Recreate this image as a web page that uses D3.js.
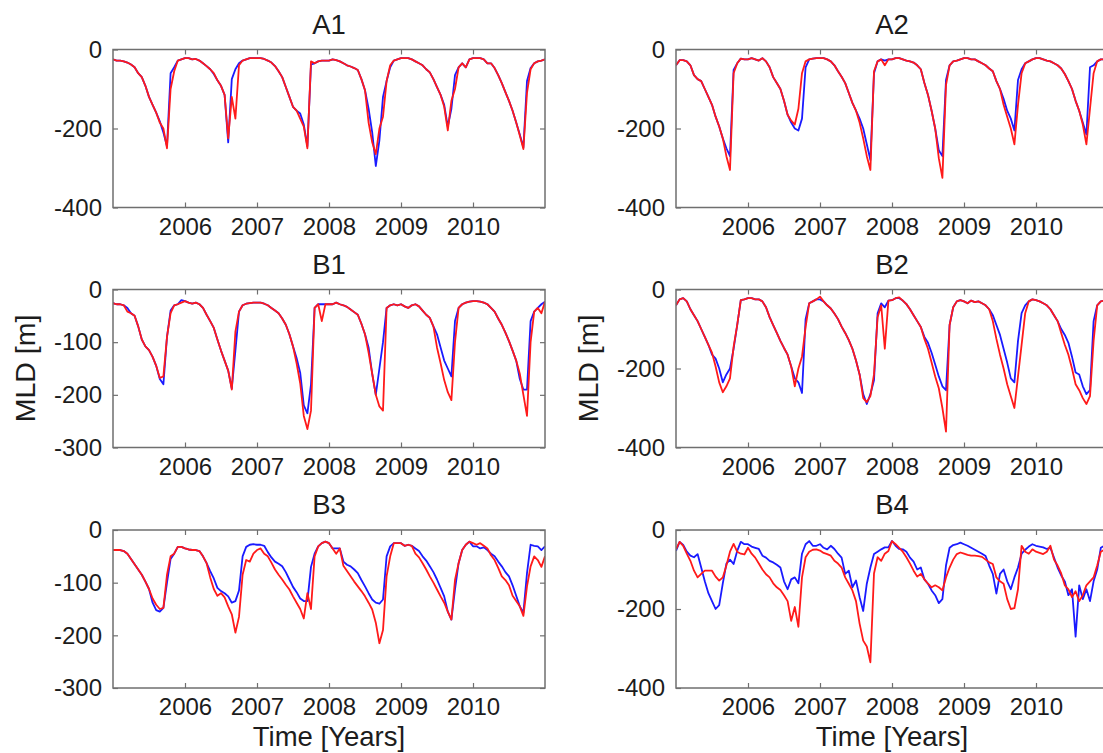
<!DOCTYPE html>
<html>
<head>
<meta charset="utf-8">
<script src="https://cdn.jsdelivr.net/npm/d3@7"></script>
<style>
  body { margin: 0; background: #fff; }
  svg { display: block; font-family: "Liberation Sans", Arial, Helvetica, sans-serif; }
</style>
</head>
<body>
<svg id="chart" width="1103" height="753"></svg>
<script>
// Sample times (decimal years), shared by every series
const years = [
  2005.00, 2005.05, 2005.10, 2005.15, 2005.20, 2005.25, 2005.30, 2005.35, 2005.40, 2005.45,
  2005.50, 2005.55, 2005.60, 2005.65, 2005.70, 2005.75, 2005.80, 2005.85, 2005.90, 2005.95,
  2006.00, 2006.05, 2006.10, 2006.15, 2006.20, 2006.25, 2006.30, 2006.35, 2006.40, 2006.45,
  2006.50, 2006.55, 2006.60, 2006.65, 2006.70, 2006.75, 2006.80, 2006.85, 2006.90, 2006.95,
  2007.00, 2007.05, 2007.10, 2007.15, 2007.20, 2007.25, 2007.30, 2007.35, 2007.40, 2007.45,
  2007.50, 2007.55, 2007.60, 2007.65, 2007.70, 2007.75, 2007.80, 2007.85, 2007.90, 2007.95,
  2008.00, 2008.05, 2008.10, 2008.15, 2008.20, 2008.25, 2008.30, 2008.35, 2008.40, 2008.45,
  2008.50, 2008.55, 2008.60, 2008.65, 2008.70, 2008.75, 2008.80, 2008.85, 2008.90, 2008.95,
  2009.00, 2009.05, 2009.10, 2009.15, 2009.20, 2009.25, 2009.30, 2009.35, 2009.40, 2009.45,
  2009.50, 2009.55, 2009.60, 2009.65, 2009.70, 2009.75, 2009.80, 2009.85, 2009.90, 2009.95,
  2010.00, 2010.05, 2010.10, 2010.15, 2010.20, 2010.25, 2010.30, 2010.35, 2010.40, 2010.45,
  2010.50, 2010.55, 2010.60, 2010.65, 2010.70, 2010.75, 2010.80, 2010.85, 2010.90, 2010.95,
  2011.00
];

// Mixed layer depth (m), blue = first estimate, red = second estimate
const a1Blue = [
  -25,-28,-28,-30,-33,-38,-45,-60,-70,-92,-120,-140,-160,-182,-210,-245,-60,-45,-28,-25,
  -22,-22,-25,-24,-28,-35,-42,-50,-62,-78,-92,-115,-235,-75,-50,-35,-28,-25,-22,-22,
  -22,-22,-24,-28,-33,-42,-55,-70,-95,-120,-145,-155,-162,-190,-245,-38,-35,-30,-28,-28,
  -28,-25,-27,-30,-35,-40,-43,-47,-52,-75,-103,-150,-210,-295,-230,-120,-80,-45,-28,-25,
  -22,-22,-22,-25,-30,-35,-40,-50,-58,-75,-95,-115,-140,-195,-150,-65,-45,-35,-45,-25,
  -22,-22,-22,-25,-35,-35,-47,-65,-85,-108,-130,-155,-185,-215,-248,-80,-47,-35,-30,-28,-25
];
const a1Red = [
  -25,-28,-28,-30,-33,-38,-45,-60,-70,-92,-120,-140,-160,-185,-200,-250,-100,-55,-28,-25,
  -22,-22,-25,-24,-28,-35,-42,-50,-60,-78,-92,-115,-225,-120,-175,-40,-28,-25,-22,-22,
  -22,-22,-24,-28,-33,-42,-55,-70,-95,-120,-145,-155,-175,-195,-250,-30,-35,-30,-28,-28,
  -28,-25,-27,-30,-35,-40,-43,-47,-52,-75,-103,-185,-235,-265,-200,-170,-80,-40,-28,-25,
  -22,-22,-22,-25,-30,-35,-40,-50,-58,-75,-95,-115,-145,-205,-130,-100,-45,-35,-45,-25,
  -22,-22,-22,-25,-35,-35,-47,-65,-85,-108,-130,-155,-185,-218,-252,-110,-50,-35,-30,-28,-25
];
const a2Blue = [
  -40,-27,-27,-30,-40,-65,-75,-80,-100,-120,-140,-170,-195,-225,-250,-270,-52,-35,-23,-25,
  -25,-22,-25,-28,-22,-30,-45,-70,-85,-100,-130,-165,-185,-200,-205,-175,-45,-25,-23,-22,
  -22,-22,-25,-30,-40,-55,-69,-85,-110,-135,-155,-175,-200,-240,-280,-60,-30,-25,-28,-25,
  -25,-22,-22,-25,-28,-30,-33,-40,-50,-85,-115,-155,-200,-255,-270,-77,-40,-30,-28,-25,
  -22,-22,-25,-25,-30,-35,-40,-48,-55,-80,-100,-125,-155,-175,-205,-77,-50,-35,-30,-25,
  -22,-22,-25,-28,-30,-35,-40,-48,-62,-80,-100,-130,-155,-185,-215,-45,-40,-30,-25,-25,-25
];
const a2Red = [
  -40,-27,-27,-30,-40,-65,-75,-80,-100,-120,-140,-170,-195,-225,-270,-305,-60,-35,-23,-25,
  -25,-22,-25,-28,-22,-30,-45,-70,-85,-100,-130,-165,-180,-190,-150,-60,-30,-25,-23,-22,
  -22,-22,-25,-30,-40,-55,-69,-85,-110,-135,-155,-185,-225,-270,-305,-55,-30,-25,-40,-25,
  -25,-22,-22,-25,-28,-30,-33,-40,-50,-85,-115,-155,-200,-275,-325,-90,-40,-30,-28,-25,
  -22,-22,-25,-25,-30,-35,-40,-48,-55,-80,-100,-140,-170,-200,-240,-140,-60,-35,-30,-25,
  -22,-22,-25,-28,-30,-35,-40,-48,-62,-80,-100,-130,-155,-190,-240,-150,-60,-30,-25,-25,-25
];
const b1Blue = [
  -26,-28,-28,-30,-35,-45,-50,-70,-95,-108,-115,-128,-145,-170,-180,-90,-40,-30,-28,-20,
  -22,-25,-27,-25,-28,-35,-48,-60,-73,-95,-116,-135,-154,-188,-116,-42,-30,-27,-26,-25,
  -25,-25,-27,-30,-35,-40,-45,-55,-67,-85,-108,-130,-158,-220,-235,-180,-35,-28,-28,-28,
  -28,-28,-25,-28,-30,-33,-38,-43,-48,-65,-85,-110,-160,-200,-150,-100,-35,-30,-28,-30,
  -28,-32,-35,-30,-28,-32,-40,-48,-54,-70,-85,-110,-135,-150,-165,-60,-35,-28,-25,-23,
  -22,-22,-23,-25,-28,-35,-42,-55,-67,-82,-98,-116,-135,-170,-190,-190,-60,-42,-35,-28,-23
];
const b1Red = [
  -26,-28,-28,-30,-42,-45,-50,-70,-95,-108,-115,-128,-145,-168,-165,-90,-45,-30,-28,-25,
  -22,-25,-27,-25,-28,-35,-48,-60,-73,-95,-116,-135,-154,-190,-80,-42,-30,-27,-26,-25,
  -25,-25,-27,-30,-35,-40,-45,-55,-67,-85,-108,-140,-178,-240,-265,-230,-35,-28,-60,-28,
  -28,-28,-25,-28,-30,-33,-38,-43,-48,-65,-85,-120,-160,-200,-222,-230,-35,-30,-28,-30,
  -28,-32,-35,-30,-28,-32,-40,-48,-54,-70,-110,-140,-172,-195,-210,-100,-35,-28,-25,-23,
  -22,-22,-23,-25,-28,-35,-42,-55,-67,-82,-98,-116,-135,-160,-200,-240,-100,-42,-35,-45,-23
];
const b2Blue = [
  -40,-25,-22,-30,-50,-65,-80,-100,-120,-140,-165,-175,-200,-235,-215,-200,-150,-90,-27,-25,
  -22,-22,-25,-25,-30,-45,-70,-90,-110,-130,-148,-165,-195,-225,-235,-262,-75,-35,-30,-25,
  -25,-30,-40,-48,-61,-75,-94,-110,-128,-150,-180,-215,-265,-290,-265,-230,-60,-35,-45,-28,
  -27,-22,-22,-28,-37,-50,-65,-80,-95,-120,-135,-160,-190,-220,-245,-255,-90,-45,-30,-27,
  -30,-35,-28,-32,-30,-35,-40,-50,-65,-90,-115,-150,-185,-225,-235,-130,-60,-40,-30,-25,
  -27,-30,-35,-40,-50,-65,-80,-100,-115,-135,-170,-210,-215,-245,-265,-255,-80,-40,-30,-28,-28
];
const b2Red = [
  -40,-25,-22,-30,-50,-65,-80,-100,-120,-140,-160,-195,-235,-260,-245,-225,-145,-90,-27,-25,
  -22,-22,-25,-25,-30,-45,-70,-90,-110,-130,-148,-165,-195,-245,-200,-170,-95,-35,-30,-25,
  -18,-30,-40,-48,-61,-75,-94,-110,-128,-150,-180,-215,-275,-285,-270,-215,-70,-40,-150,-28,
  -27,-22,-20,-28,-37,-50,-65,-80,-95,-125,-150,-185,-220,-250,-300,-360,-90,-45,-30,-27,
  -30,-35,-28,-32,-30,-35,-40,-50,-80,-125,-165,-200,-240,-270,-300,-220,-140,-60,-30,-25,
  -27,-30,-35,-40,-50,-65,-80,-110,-140,-165,-200,-240,-255,-275,-290,-270,-130,-40,-30,-28,-28
];
const b3Blue = [
  -38,-38,-38,-40,-45,-55,-65,-75,-85,-98,-112,-138,-152,-155,-148,-100,-55,-45,-32,-32,
  -35,-37,-38,-38,-40,-50,-63,-78,-92,-110,-116,-120,-126,-138,-135,-115,-50,-32,-28,-27,
  -28,-28,-30,-42,-52,-60,-64,-69,-80,-94,-108,-118,-130,-135,-135,-70,-45,-31,-25,-22,
  -25,-35,-35,-35,-60,-66,-69,-75,-82,-95,-107,-120,-132,-138,-140,-132,-50,-31,-25,-25,
  -25,-30,-28,-30,-35,-40,-50,-58,-69,-80,-94,-110,-126,-155,-170,-113,-63,-38,-28,-22,
  -31,-31,-35,-33,-38,-45,-50,-60,-69,-80,-88,-105,-125,-145,-157,-82,-28,-30,-31,-38,-31
];
const b3Red = [
  -38,-38,-38,-40,-45,-55,-65,-75,-85,-98,-112,-130,-142,-150,-148,-85,-50,-45,-32,-32,
  -35,-37,-38,-38,-40,-50,-63,-90,-112,-125,-120,-128,-145,-160,-195,-165,-85,-57,-60,-45,
  -38,-35,-45,-50,-62,-75,-85,-94,-104,-113,-126,-138,-150,-168,-120,-150,-50,-31,-25,-22,
  -25,-35,-45,-35,-68,-78,-88,-98,-107,-116,-126,-138,-151,-176,-215,-190,-88,-50,-25,-25,
  -25,-30,-28,-30,-45,-52,-63,-75,-88,-100,-113,-126,-138,-155,-170,-95,-63,-38,-28,-22,
  -25,-28,-25,-30,-35,-48,-57,-72,-88,-95,-105,-125,-135,-145,-163,-107,-69,-50,-57,-70,-50
];
const b4Blue = [
  -53,-30,-38,-55,-65,-69,-61,-95,-130,-160,-180,-200,-190,-135,-85,-75,-86,-53,-30,-36,
  -36,-42,-45,-48,-65,-70,-78,-82,-88,-95,-130,-150,-125,-120,-135,-60,-36,-28,-40,-40,
  -36,-45,-49,-40,-48,-60,-70,-111,-103,-145,-128,-170,-205,-136,-95,-61,-55,-49,-44,-44,
  -28,-40,-48,-49,-55,-70,-80,-100,-95,-125,-136,-153,-165,-185,-175,-90,-45,-38,-36,-32,
  -36,-40,-45,-50,-55,-60,-66,-90,-111,-161,-111,-100,-130,-150,-120,-95,-60,-50,-42,-36,
  -40,-42,-44,-48,-45,-70,-95,-115,-130,-165,-150,-270,-140,-175,-150,-180,-130,-100,-45,-40,-40
];
const b4Red = [
  -49,-30,-40,-60,-78,-103,-120,-111,-103,-103,-103,-118,-128,-120,-90,-55,-35,-55,-60,-62,
  -45,-60,-70,-85,-100,-112,-120,-135,-145,-152,-165,-180,-230,-195,-245,-120,-69,-55,-50,-49,
  -52,-58,-61,-65,-78,-85,-95,-120,-136,-153,-180,-237,-280,-295,-335,-110,-69,-78,-60,-53,
  -28,-36,-45,-55,-69,-85,-103,-118,-111,-125,-136,-145,-140,-145,-153,-120,-95,-75,-61,-57,
  -60,-63,-65,-65,-66,-68,-75,-82,-86,-120,-130,-136,-175,-200,-198,-150,-40,-55,-60,-49,
  -55,-58,-61,-55,-40,-75,-90,-110,-140,-150,-170,-155,-180,-165,-140,-130,-120,-90,-55,-50,-50
];

// Axis ticks
const yearTicks = [2006, 2007, 2008, 2009, 2010];
const depthTicks400 = [0, -200, -400];
const depthTicks300 = [0, -100, -200, -300];

// Panel arrangement (3 rows x 2 columns)
const panels = [
  { title: "A1", row: 0, col: 0, depthMin: -400, ticks: depthTicks400, blue: a1Blue, red: a1Red },
  { title: "A2", row: 0, col: 1, depthMin: -400, ticks: depthTicks400, blue: a2Blue, red: a2Red },
  { title: "B1", row: 1, col: 0, depthMin: -300, ticks: depthTicks300, blue: b1Blue, red: b1Red, yLabel: true },
  { title: "B2", row: 1, col: 1, depthMin: -400, ticks: depthTicks400, blue: b2Blue, red: b2Red, yLabel: true },
  { title: "B3", row: 2, col: 0, depthMin: -300, ticks: depthTicks300, blue: b3Blue, red: b3Red, xLabel: true },
  { title: "B4", row: 2, col: 1, depthMin: -400, ticks: depthTicks400, blue: b4Blue, red: b4Red, xLabel: true }
];

const colLeft = [113, 676];
const rowTop = [49.5, 289.5, 530];
const plotW = 432;
const plotH = 158;

const axisColor = "#6f6f6f";
const textColor = "#1c1c1c";

const svg = d3.select("#chart");
svg.append("rect").attr("width", 1103).attr("height", 753).attr("fill", "#fff");

panels.forEach((p, i) => {
  const left = colLeft[p.col];
  const top = rowTop[p.row];
  const g = svg.append("g").attr("transform", `translate(${left},${top})`);

  const x = d3.scaleLinear().domain([2005, 2011]).range([0, plotW]);
  const y = d3.scaleLinear().domain([p.depthMin, 0]).range([plotH, 0]);

  const clipId = "clip" + i;
  g.append("clipPath").attr("id", clipId)
    .append("rect").attr("width", plotW).attr("height", plotH);

  const line = d3.line()
    .x((d, j) => x(years[j]))
    .y(d => y(d));

  const lines = g.append("g").attr("clip-path", `url(#${clipId})`);
  lines.append("path").datum(p.blue)
    .attr("d", line).attr("fill", "none")
    .attr("stroke", "#1a1aff").attr("stroke-width", 1.8)
    .attr("stroke-linejoin", "round");
  lines.append("path").datum(p.red)
    .attr("d", line).attr("fill", "none")
    .attr("stroke", "#ff1a1a").attr("stroke-width", 1.8)
    .attr("stroke-linejoin", "round");

  // Axes with inward ticks on all four sides
  const fmt = d => String(d);
  const bottom = g.append("g").attr("transform", `translate(0,${plotH})`)
    .call(d3.axisBottom(x).tickValues(yearTicks).tickFormat(fmt)
      .tickSize(-5).tickSizeOuter(0).tickPadding(10));
  const topAx = g.append("g")
    .call(d3.axisTop(x).tickValues(yearTicks).tickFormat("")
      .tickSize(-5).tickSizeOuter(0));
  const leftAx = g.append("g")
    .call(d3.axisLeft(y).tickValues(p.ticks).tickFormat(fmt)
      .tickSize(-5).tickSizeOuter(0).tickPadding(11));
  const rightAx = g.append("g").attr("transform", `translate(${plotW},0)`)
    .call(d3.axisRight(y).tickValues(p.ticks).tickFormat("")
      .tickSize(-5).tickSizeOuter(0));

  [bottom, topAx, leftAx, rightAx].forEach(a => {
    a.select(".domain").remove();
    a.selectAll(".tick line").attr("stroke", axisColor).attr("stroke-width", 1.2);
    a.selectAll(".tick text")
      .attr("fill", textColor)
      .style("font-size", "24px")
      .style("font-family", '"Liberation Sans", Arial, sans-serif');
  });

  g.append("rect")
    .attr("width", plotW).attr("height", plotH)
    .attr("fill", "none").attr("stroke", axisColor).attr("stroke-width", 1.5);

  g.append("text")
    .attr("x", plotW / 2).attr("y", -16)
    .attr("text-anchor", "middle")
    .attr("fill", textColor)
    .style("font-size", "27.5px")
    .text(p.title);

  if (p.yLabel) {
    g.append("text")
      .attr("transform", `translate(-78,${plotH / 2}) rotate(-90)`)
      .attr("text-anchor", "middle")
      .attr("fill", textColor)
      .style("font-size", "28.5px")
      .text("MLD [m]");
  }
  if (p.xLabel) {
    g.append("text")
      .attr("x", plotW / 2).attr("y", plotH + 58)
      .attr("text-anchor", "middle")
      .attr("fill", textColor)
      .style("font-size", "27.5px")
      .text("Time [Years]");
  }
});
</script>
</body>
</html>
